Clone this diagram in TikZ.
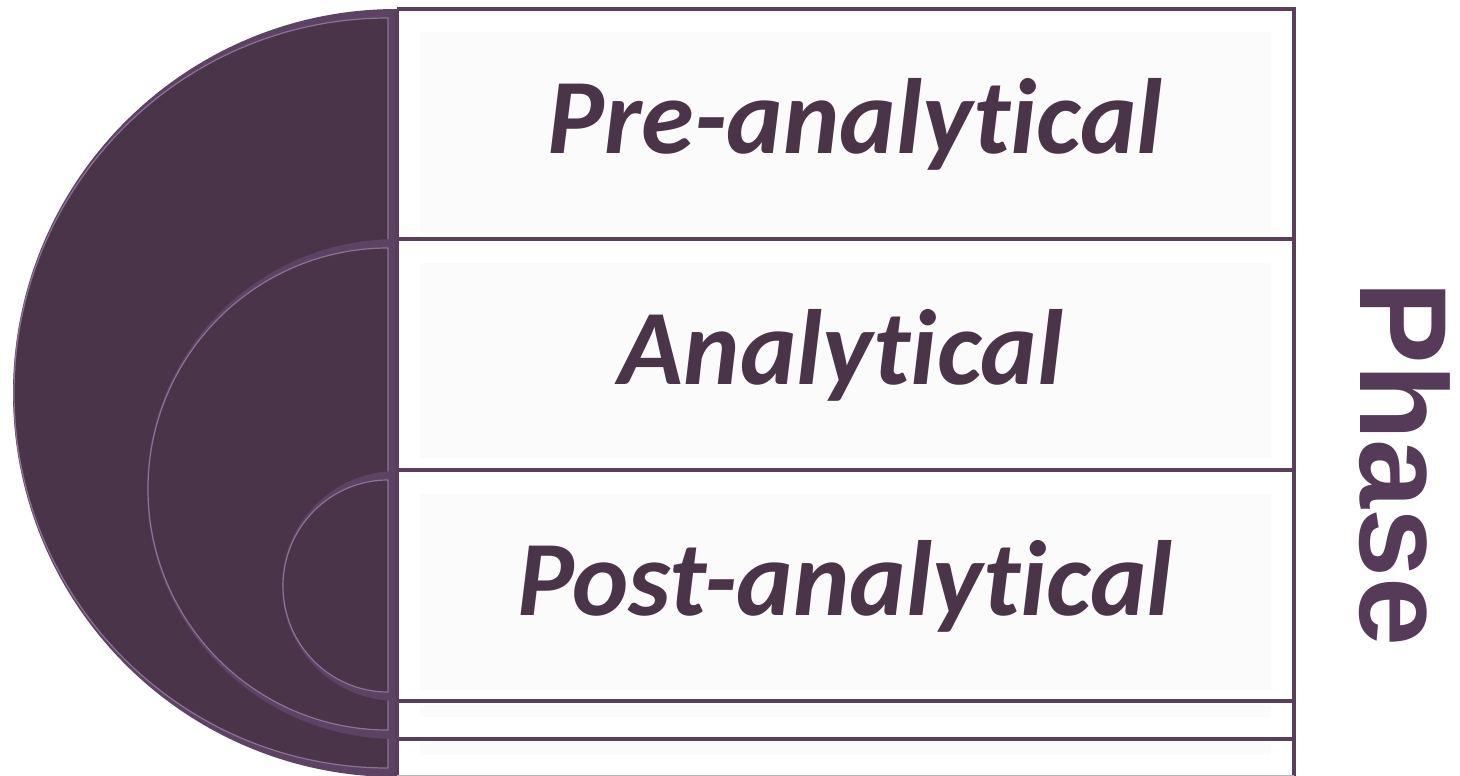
\documentclass[tikz,border=0pt]{standalone}
\usepackage{fontspec}
\newfontfamily\labfont{Carlito}[Ligatures=NoCommon]
\newfontfamily\phfont{Liberation Sans}
\definecolor{semifill}{HTML}{4A3449}
\definecolor{semiedge}{HTML}{5C4263}
\definecolor{semihl}{HTML}{8C7394}
\definecolor{boxline}{HTML}{5A3E5C}
\definecolor{labcol}{HTML}{4A3448}
\definecolor{phcol}{HTML}{553B58}
\definecolor{innerbg}{HTML}{FBFBFB}
\tikzset{
  semiouter/.style={fill=semiedge, draw=semiedge, line width=2pt},
  semiinner/.style={fill=semifill, draw=semihl, line width=1.2pt},
  rowline/.style={draw=boxline, line width=4pt},
  innerrect/.style={fill=innerbg, draw=none},
  label/.style={text=labcol, font=\labfont\bfseries\itshape\fontsize{107}{113}\selectfont, inner sep=0pt, anchor=center},
  phaselabel/.style={text=phcol, font=\phfont\bfseries\fontsize{124}{130}\selectfont, inner sep=0pt, rotate=-90, anchor=center}
}
\begin{document}
\begin{tikzpicture}[x=1pt,y=-1pt]
\useasboundingbox (0,0) rectangle (1460,776);
\fill[white] (0,0) rectangle (1460,776);
% faint inner panels
\path[innerrect] (420,32) rectangle (1271,233);
\path[innerrect] (420,263) rectangle (1271,458);
\path[innerrect] (420,494) rectangle (1271,690);
\path[innerrect] (420,705) rectangle (1271,717);
\path[innerrect] (420,742) rectangle (1271,755);
% big semicircle: center (397,393), r=383
\path[semiouter] (397,10) arc[start angle=270, end angle=90, radius=383] -- cycle;
\path[semiinner] (388,18) arc[start angle=270, end angle=90, x radius=374, y radius=375] -- cycle;
% middle semicircle: center (397,489), r=249
\path[semiouter] (397,240) arc[start angle=270, end angle=90, radius=249] -- cycle;
\path[semiinner] (388,248) arc[start angle=270, end angle=90, x radius=240, y radius=241] -- cycle;
% small semicircle: center (397,586), r=114
\path[semiouter] (397,472) arc[start angle=270, end angle=90, radius=114] -- cycle;
\path[semiinner] (388,480) arc[start angle=270, end angle=90, x radius=105, y radius=106] -- cycle;
% box lines
\coordinate (tl) at (397,9);
\coordinate (tr) at (1294,9);
\coordinate (bl) at (397,776);
\coordinate (br) at (1294,776);
\draw[rowline] (tl) -- (tr) -- (br);
\draw[rowline] (tl) -- (bl);
\foreach \yy in {239,470,701,739} {
  \draw[rowline] (397,\yy) -- (1294,\yy);
}
\draw[draw=boxline!40, line width=3pt] (397,776) -- (1294,776);
% labels
\node[label] (pre) at (855,124) {Pre-analytical};
\node[label] (ana) at (841,355) {Analytical};
\node[label] (post) at (845,586) {Post-analytical};
\node[phaselabel] (phase) at (1405,464) {Phase};
\end{tikzpicture}
\end{document}
